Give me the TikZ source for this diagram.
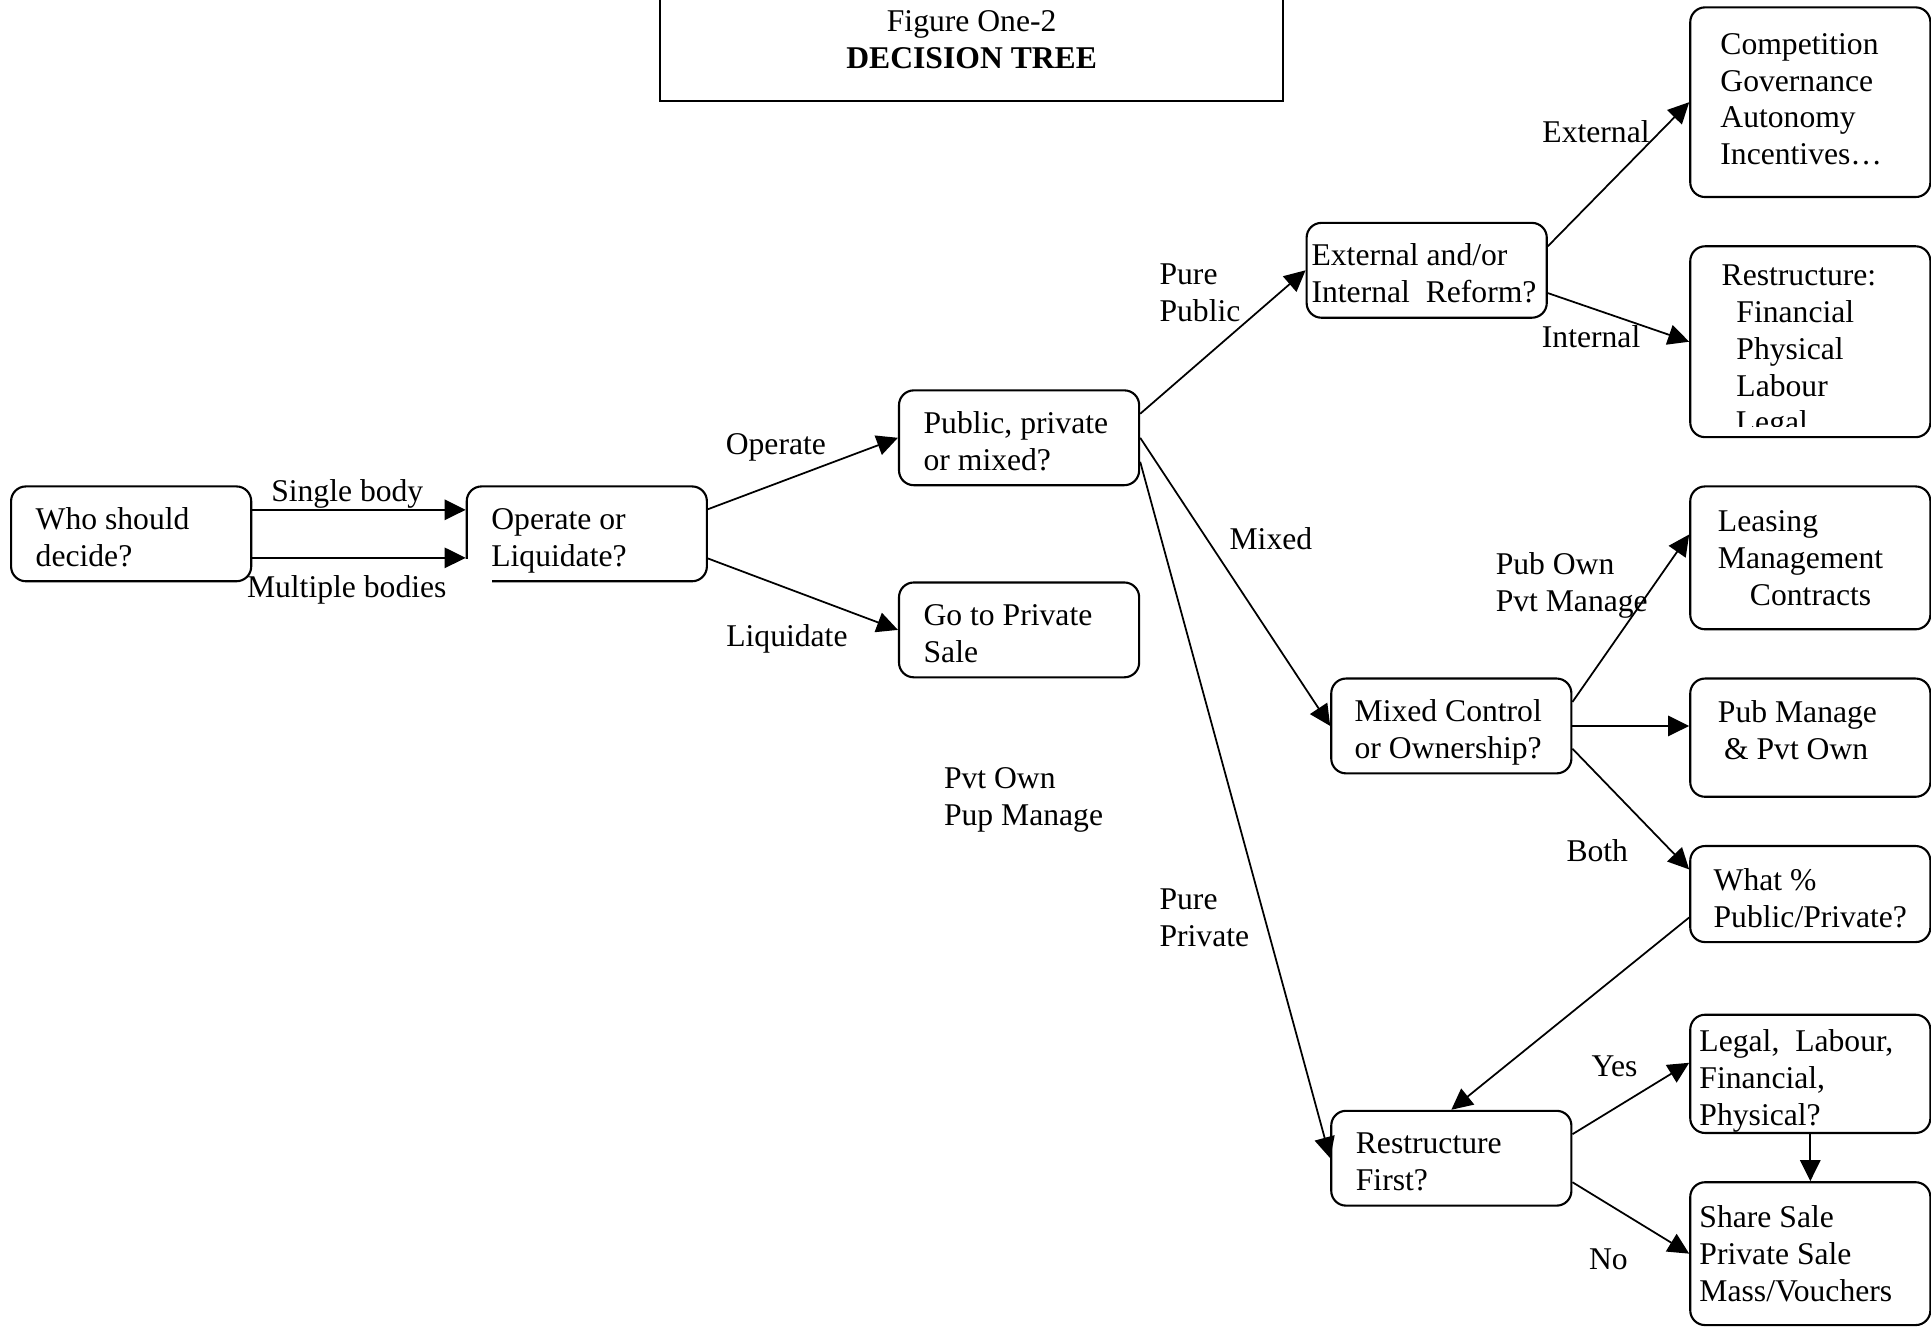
\documentclass[tikz,border=0pt]{standalone}
\usepackage{fontspec}
\setmainfont{Liberation Serif}
\usetikzlibrary{arrows.meta}
\newdimen\dpx \dpx=0.0123151cm
\tikzstyle{decisionbox} = [draw, line width=0.6pt, rounded corners=12\dpx, minimum width=195\dpx, inner xsep=20\dpx, inner ysep=0pt, text width=155\dpx, align=flush left, execute at begin node={\spaceskip=0pt\xspaceskip=0pt}, text height=35\dpx, text depth=42\dpx]
\tikzstyle{branchlabel} = [inner sep=0pt, align=flush left, execute at begin node={\spaceskip=0pt\xspaceskip=0pt}]
\tikzstyle{treearrow} = [-{Triangle[length=6pt, width=5.8pt]}, line width=0.5pt]

\begin{document}
\begin{tikzpicture}[x=0.0123151cm, y=-0.0123151cm, font=\fontsize{9}{10.5}\selectfont]
	\useasboundingbox (0,0) rectangle (1568,1077);
	\node (title) [draw, line width=0.6pt, minimum width=506\dpx, minimum height=100\dpx, align=center] at (789,32) {Figure One-2\\\textbf{DECISION TREE}};
	\node (oper) [decisionbox] at (476.5,433.5) {Operate or\\Liquidate?};
	\node (lbl_multi) [branchlabel, fill=white, anchor=base west, text width=199\dpx, inner ysep=13\dpx] at (200,485) {Multiple bodies};
	\node (who) [decisionbox] at (106.5,433.5) {Who should\\decide?};
	\node (mix) [decisionbox] at (827.5,355.5) {Public, private\\or mixed?};
	\node (sale) [decisionbox] at (827.5,511.5) {Go to Private\\Sale};
	\node (reform) [decisionbox, inner xsep=4\dpx, text width=187\dpx] at (1158.5,219.5) {External and/or\\Internal~ Reform?};
	\node (extern) [decisionbox, inner xsep=24\dpx, text width=146\dpx, text height=38\dpx, text depth=116\dpx] at (1470,83) {Competition\\Governance\\Autonomy\\Incentives…};
	\node (intern) [decisionbox, inner xsep=25\dpx, text width=144\dpx, text height=32\dpx, text depth=123\dpx] at (1470,277.5) {Restructure:\\\hspace*{12\dpx}Financial\\\hspace*{12\dpx}Physical\\\hspace*{12\dpx}Labour};
	\node (control) [decisionbox, inner xsep=19\dpx, text width=157\dpx] at (1178.5,589.5) {Mixed Control\\or Ownership?};
	\node (lease) [decisionbox, inner xsep=22\dpx, text width=150\dpx, text height=37\dpx, text depth=79\dpx] at (1470,453) {Leasing\\Management\\\hspace*{26\dpx}Contracts};
	\node (pubman) [decisionbox, inner xsep=22\dpx, text width=150\dpx, text height=36\dpx, text depth=60\dpx] at (1470,599) {Pub Manage\\\hspace*{5\dpx}\& Pvt Own};
	\node (share) [decisionbox, inner xsep=19\dpx, text width=157\dpx, text height=36\dpx, text depth=42\dpx] at (1470,726) {What \%\\Public/Private?};
	\node (first) [decisionbox] at (1178.5,940.5) {Restructure\\First?};
	\node (how) [decisionbox, inner xsep=7\dpx, text width=180\dpx, text height=30\dpx, text depth=66\dpx] at (1470,872) {Legal,~ Labour,\\Financial,\\Physical?};
	\node (method) [decisionbox, inner xsep=7\dpx, text width=180\dpx, text height=37\dpx, text depth=79\dpx] at (1470,1018) {Share Sale\\Private Sale\\Mass/Vouchers};
	% last line of the restructure box is cut off
	\begin{scope}
		\clip (1380,320) rectangle (1560,346.5);
		\node (intern_legal) [branchlabel, anchor=base west] at (1409,351.6) {Legal};
	\end{scope}
	\node (lbl_single) [branchlabel, anchor=base] at (282,407.4) {Single body};
	\node (lbl_operate) [branchlabel, anchor=base] at (630,369) {Operate};
	\node (lbl_liquidate) [branchlabel, anchor=base] at (639,525) {Liquidate};
	\node (lbl_purepub) [branchlabel, anchor=north west] at (941,214) {Pure\\Public};
	\node (lbl_mixed) [branchlabel, anchor=base] at (1032,446.5) {Mixed};
	\node (lbl_purepriv) [branchlabel, anchor=north west] at (941,721) {Pure\\Private};
	\node (lbl_pvtown) [branchlabel, anchor=north west] at (766,623) {Pvt Own\\Pup Manage};
	\node (lbl_external) [branchlabel, anchor=base] at (1296,115.5) {External};
	\node (lbl_internal) [branchlabel, anchor=base] at (1292,282.5) {Internal};
	\node (lbl_pubown) [branchlabel, anchor=north west] at (1214,448) {Pub Own\\Pvt Manage};
	\node (lbl_both) [branchlabel, anchor=base] at (1297,699.5) {Both};
	\node (lbl_yes) [branchlabel, anchor=base] at (1311,874.5) {Yes};
	\node (lbl_no) [branchlabel, anchor=base] at (1306,1030.5) {No};
	\draw [treearrow] ([yshift=19.5\dpx]who.east) -- ([yshift=19.5\dpx]oper.west);
	\draw [treearrow] ([yshift=-19.5\dpx]who.east) -- ([yshift=-19.5\dpx]oper.west);
	\draw [treearrow] ([yshift=20\dpx]oper.east) -- (mix.west);
	\draw [treearrow] ([yshift=-20\dpx]oper.east) -- (sale.west);
	\draw [treearrow] ([yshift=19.5\dpx]mix.east) -- (reform.west);
	\draw [treearrow] (mix.east) -- (control.west);
	\draw [treearrow] ([yshift=-19.5\dpx]mix.east) -- (first.west);
	\draw [treearrow] ([yshift=19.5\dpx]reform.east) -- (extern.west);
	\draw [treearrow] ([yshift=-18.5\dpx]reform.east) -- (intern.west);
	\draw [treearrow] ([yshift=19.5\dpx]control.east) -- ([yshift=19\dpx]lease.west);
	\draw [treearrow] (control.east) -- (control.east -| pubman.west);
	\draw [treearrow] ([yshift=-18.5\dpx]control.east) -- ([yshift=20\dpx]share.west);
	\draw [treearrow] ([yshift=-19\dpx]share.west) -- (first.north);
	\draw [treearrow] ([yshift=19.5\dpx]first.east) -- ([yshift=9\dpx]how.west);
	\draw [treearrow] ([yshift=-19.5\dpx]first.east) -- (method.west);
	\draw [treearrow] (how.south) -- (method.north);
\end{tikzpicture}
\end{document}
